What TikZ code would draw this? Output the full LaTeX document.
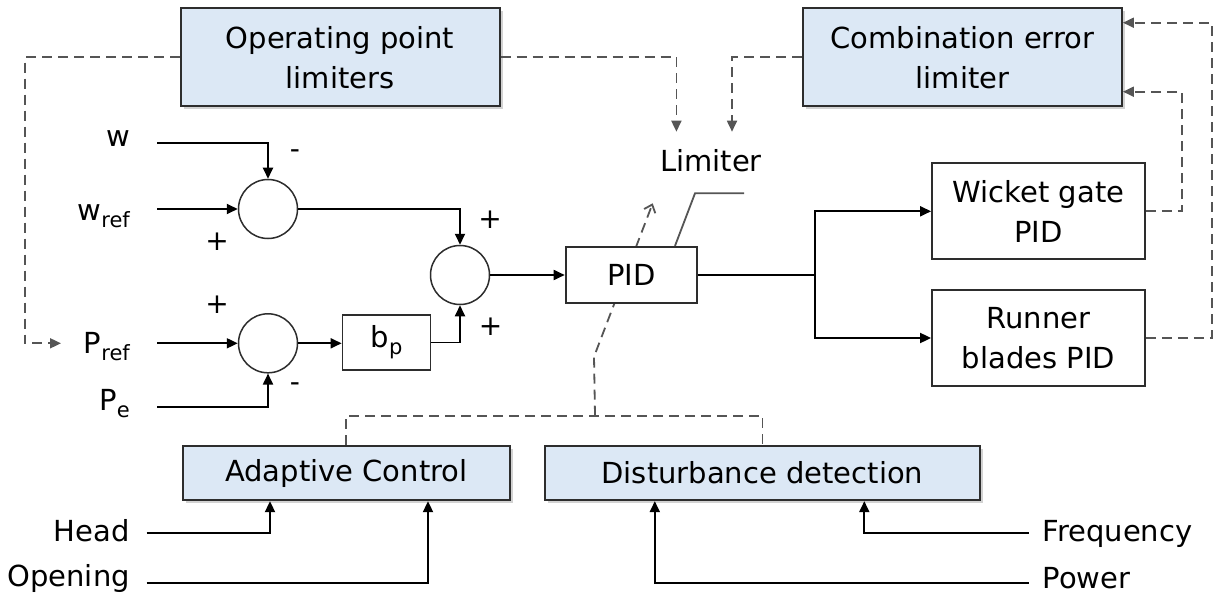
\documentclass[tikz,border=0pt]{standalone}
\usepackage{fontspec}
\setmainfont{DejaVu Sans}
\usetikzlibrary{arrows.meta,shadows,backgrounds}
\definecolor{boxblue}{RGB}{220,232,245}
\definecolor{dgray}{RGB}{85,85,85}
\definecolor{bordergray}{RGB}{45,45,45}
\newcommand\subtxt[1]{\raisebox{-0.45ex}{\fontsize{21}{21}\selectfont #1}}
\begin{document}
\begin{tikzpicture}[x=1pt,y=-1pt,
  every node/.style={font=\fontsize{29}{40}\selectfont, inner sep=0pt},
  bluebox/.style={draw=bordergray, line width=2pt, fill=boxblue, align=center,
    drop shadow={shadow xshift=3pt,shadow yshift=-3pt,opacity=0.35}},
  whitebox/.style={draw=bordergray, line width=1.8pt, fill=white, align=center},
  sumnode/.style={circle, draw=bordergray, line width=1.5pt, fill=white, minimum size=59pt},
  sigline/.style={draw=black, line width=1.8pt},
  sig/.style={sigline, -{Triangle[length=11pt,width=10pt]}},
  dline/.style={draw=dgray, line width=1.8pt, dash pattern=on 10pt off 6pt},
  fb/.style={dline, -{Triangle[length=11pt,width=10pt]}},
  swline/.style={draw=dgray, line width=1.8pt},
  pm/.style={font=\fontsize{28}{28}\selectfont},
  lbl/.style={}
]
\useasboundingbox (0,0) rectangle (1214,596);
\begin{scope}[on background layer]
  \fill[white] (0,0) rectangle (1214,596);
\end{scope}

% blocks
\node[bluebox, minimum width=319pt, minimum height=98pt] (op) at (340,57.2) {Operating point\\limiters};
\node[bluebox, minimum width=319pt, minimum height=98pt] (cel) at (962.4,57.2) {Combination error\\limiter};
\node[whitebox, minimum width=213pt, minimum height=96pt] (wg) at (1038.5,211.3) {Wicket gate\\PID};
\node[whitebox, minimum width=213pt, minimum height=96pt] (rb) at (1038.5,338) {Runner\\blades PID};
\node[whitebox, minimum width=131.4pt, minimum height=56.4pt] (pid) at (631.3,275) {PID};
\node[whitebox, minimum width=88pt, minimum height=55pt] (bp) at (386.5,342.5) {b\subtxt{p}};
\node[bluebox, minimum width=327.5pt, minimum height=54.3pt] (ac) at (346.3,473) {Adaptive Control};
\node[bluebox, minimum width=434.8pt, minimum height=54.3pt] (dd) at (762.4,473) {Disturbance detection};
\node[sumnode] (c1) at (268,209) {};
\node[sumnode] (c2) at (460,275) {};
\node[sumnode] (c3) at (268,343.3) {};

% labels
\node[lbl, anchor=base east] (lw) at (130,147) {w};
\node[lbl, anchor=base east] (lwref) at (130,220) {w\subtxt{ref}};
\node[lbl, anchor=base east] (lpref) at (130,353) {P\subtxt{ref}};
\node[lbl, anchor=base east] (lpe) at (130,410) {P\subtxt{e}};
\node[lbl, anchor=base east] (lhead) at (130,541.7) {Head};
\node[lbl, anchor=base east] (lopen) at (130,586.7) {Opening};
\node[lbl, anchor=base west] (lfreq) at (1042.4,541.7) {Frequency};
\node[lbl, anchor=base west] (lpow) at (1042.4,588) {Power};
\node[lbl, anchor=base] (llim) at (711,171.7) {Limiter};

% signs
\node[pm] (s1) at (295,154) {-};
\node[pm] (s2) at (217,242) {+};
\node[pm] (s3) at (490,220) {+};
\node[pm] (s4) at (217,305) {+};
\node[pm] (s5) at (490.6,326.7) {+};
\node[pm] (s6) at (295,387) {-};

% signal connectors
\coordinate (win) at (157,143.3);
\coordinate (wrefin) at (157,209);
\coordinate (prefin) at (157,343.3);
\coordinate (pein) at (157,407);
\draw[sig] (win) -| (c1.north);
\draw[sig] (wrefin) -- (c1.west);
\draw[sig] (prefin) -- (c3.west);
\draw[sig] (pein) -| (c3.south);
\draw[sig] (c1.east) -| (c2.north);
\draw[sig] (c3.east) -- (bp.west |- c3.east);
\draw[sig] (bp.east) -| (c2.south);
\draw[sig] (c2.east) -- (pid.west);
\coordinate (split) at (814.6,275);
\draw[sigline] (pid.east) -- (split);
\draw[sig] (split) |- (wg.west);
\draw[sig] (split) |- (rb.west);

\coordinate (headin) at (146.6,533);
\coordinate (openin) at (146.6,583);
\coordinate (freqin) at (1028.7,533);
\coordinate (powin) at (1028.7,583);
\draw[sig] (headin) -| (ac.south -| 270,0);
\draw[sig] (openin) -| (ac.south -| 428,0);
\draw[sig] (freqin) -| (dd.south -| 864.3,0);
\draw[sig] (powin) -| (dd.south -| 654.8,0);

% dashed limiter connections
\coordinate (pdash) at (61,343.3);
\draw[fb] (op.west) -- (25,57.2) |- (pdash);
\coordinate (lima) at (676.4,131.7);
\coordinate (limb) at (732,131.7);
\draw[fb] (op.east) -| (lima);
\draw[fb] (cel.west) -| (limb);
\draw[fb] (wg.east) -- (1181.7,211.3) |- (cel.east |- 0,91.7);
\draw[fb] (rb.east) -- (1211.7,338) |- (cel.east |- 0,22.7);

% limiter switch
\coordinate (sw1) at (695,193.3);
\coordinate (sw2) at (744,193.3);
\draw[swline] ([xshift=43.7pt]pid.north) -- (sw1) -- (sw2);

% adaptive / disturbance to limiter
\coordinate (jn) at (595,415.7);
\coordinate (kink) at (594,356.7);
\coordinate (limtip) at (652.7,203.3);
\begin{scope}[on background layer]
  \draw[dline] (ac.north) |- (jn) -| (dd.north);
  \draw[dline, -{Straight Barb[length=7pt,width=12pt,line width=1.8pt]}] (jn) -- (kink) -- (limtip);
\end{scope}
\end{tikzpicture}
\end{document}
